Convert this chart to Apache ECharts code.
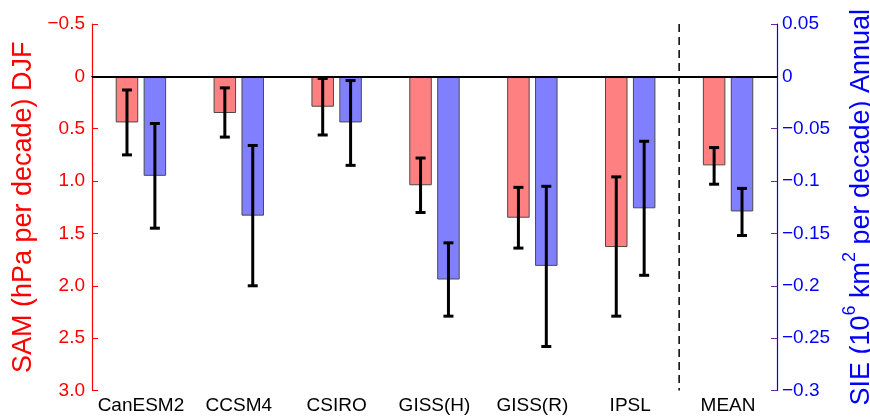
<!DOCTYPE html>
<html>
<head>
<meta charset="utf-8">
<script src="https://cdn.jsdelivr.net/npm/echarts@6/dist/echarts.min.js"></script>
<style>
  html, body { margin: 0; padding: 0; background: #fff; }
  #chart { width: 870px; height: 419px; }
</style>
</head>
<body>
<div id="chart"></div>
<script>
// Model names along the x axis
const categories = ['CanESM2', 'CCSM4', 'CSIRO', 'GISS(H)', 'GISS(R)', 'IPSL', 'MEAN'];

// SAM trend, DJF (hPa per decade), with error-bar ends
const samTrend = [0.44, 0.35, 0.29, 1.04, 1.35, 1.63, 0.85];
const samLow   = [0.13, 0.11, 0.02, 0.78, 1.06, 0.96, 0.68];
const samHigh  = [0.75, 0.58, 0.56, 1.30, 1.64, 2.29, 1.03];

// Annual SIE trend (10^6 km^2 per decade), with error-bar ends
const sieTrend = [-0.095, -0.133, -0.044, -0.194, -0.181, -0.126, -0.129];
const sieLow   = [-0.045, -0.066, -0.004, -0.159, -0.105, -0.062, -0.107];
const sieHigh  = [-0.145, -0.200, -0.085, -0.229, -0.258, -0.190, -0.152];

// Tick values for both value axes
const samTicks = { min: -0.5, max: 3.0, step: 0.5 };
const sieTicks = { min: -0.3, max: 0.05, step: 0.05 };

const FONT = '"Liberation Sans", Arial, Helvetica, sans-serif';
const RED = '#ff0000';
const BLUE = '#0000ff';
const BAR_W = 22.5;
const BAR_GAP = 0.24;
const BAR_SHIFT = (BAR_W + BAR_W * BAR_GAP) / 2;

const minus = s => s.replace('-', '\u2212');

function errorBars(lows, highs, shift) {
  return {
    type: 'custom',
    z: 5,
    renderItem: function (params, api) {
      const i = api.value(0);
      const a = api.coord([i, api.value(1)]);
      const b = api.coord([i, api.value(2)]);
      const x = a[0] + shift;
      const cap = 5;
      const style = { stroke: '#000', lineWidth: 3, fill: null };
      return {
        type: 'group',
        children: [
          { type: 'line', shape: { x1: x, y1: a[1], x2: x, y2: b[1] }, style: style },
          { type: 'line', shape: { x1: x - cap, y1: a[1], x2: x + cap, y2: a[1] }, style: style },
          { type: 'line', shape: { x1: x - cap, y1: b[1], x2: x + cap, y2: b[1] }, style: style }
        ]
      };
    },
    data: categories.map((c, i) => [i, lows[i], highs[i]])
  };
}

const chart = echarts.init(document.getElementById('chart'), null, { renderer: 'canvas' });

chart.setOption({
  animation: false,
  backgroundColor: '#fff',
  grid: { left: 92, right: 93, top: 24, bottom: 28.5, containLabel: false, outerBoundsMode: 'none' },
  xAxis: [
    {
      type: 'category',
      data: categories,
      position: 'bottom',
      axisLine: { lineStyle: { color: '#000', width: 1.2 } },
      axisTick: { inside: true, alignWithLabel: true, length: 5, lineStyle: { color: '#555' } },
      axisLabel: { color: '#000', fontSize: 19, fontFamily: FONT, margin: 6, interval: 0 },
      splitLine: { show: false }
    },
    {
      type: 'category',
      data: categories,
      position: 'top',
      axisLine: { lineStyle: { color: '#000', width: 1.2 } },
      axisTick: { inside: true, alignWithLabel: true, length: 5, lineStyle: { color: '#555' } },
      axisLabel: { show: false },
      splitLine: { show: false }
    }
  ],
  yAxis: [
    {
      type: 'value',
      position: 'left',
      inverse: true,
      min: samTicks.min,
      max: samTicks.max,
      interval: samTicks.step,
      name: 'SAM (hPa per decade) DJF',
      nameLocation: 'middle',
      nameRotate: 90,
      nameGap: 49,
      nameTextStyle: { color: RED, fontSize: 27, fontFamily: FONT },
      axisLine: { show: true, lineStyle: { color: RED, width: 1.2 } },
      axisTick: { show: true, inside: true, length: 6, lineStyle: { color: RED } },
      axisLabel: {
        color: RED, fontSize: 19, fontFamily: FONT, margin: 7,
        formatter: v => v === 0 ? '0' : minus(v.toFixed(1))
      },
      splitLine: { show: false }
    },
    {
      type: 'value',
      position: 'right',
      min: sieTicks.min,
      max: sieTicks.max,
      interval: sieTicks.step,
      name: '{t|SIE (10}{s|6}{t| km}{s|2}{t| per decade) Annual}',
      nameLocation: 'middle',
      nameRotate: 90,
      nameGap: 62,
      nameTextStyle: {
        color: BLUE, fontSize: 27, fontFamily: FONT,
        rich: {
          t: { color: BLUE, fontSize: 27, fontFamily: FONT, lineHeight: 34, verticalAlign: 'bottom' },
          s: { color: BLUE, fontSize: 18, fontFamily: FONT, lineHeight: 34, verticalAlign: 'top' }
        }
      },
      axisLine: { show: true, lineStyle: { color: BLUE, width: 1.2 } },
      axisTick: { show: true, inside: true, length: 6, lineStyle: { color: '#6a2aa0' } },
      axisLabel: {
        color: BLUE, fontSize: 19, fontFamily: FONT, margin: 5,
        formatter: v => minus(String(parseFloat(v.toFixed(2))))
      },
      splitLine: { show: false }
    }
  ],
  series: [
    {
      name: 'SAM',
      type: 'bar',
      yAxisIndex: 0,
      barWidth: BAR_W,
      barGap: (BAR_GAP * 100) + '%',
      data: samTrend,
      itemStyle: { color: '#ff8080', borderColor: '#4a4a4a', borderWidth: 1 },
      markLine: {
        silent: true,
        symbol: 'none',
        label: { show: false },
        lineStyle: { color: '#000', type: 'solid', width: 1.8 },
        data: [{ yAxis: 0 }]
      }
    },
    {
      name: 'SIE',
      type: 'bar',
      yAxisIndex: 1,
      barWidth: BAR_W,
      barGap: (BAR_GAP * 100) + '%',
      data: sieTrend,
      itemStyle: { color: '#8080ff', borderColor: '#4a4a4a', borderWidth: 1 }
    },
    Object.assign(errorBars(samLow, samHigh, -BAR_SHIFT), { yAxisIndex: 0 }),
    Object.assign(errorBars(sieLow, sieHigh, BAR_SHIFT), { yAxisIndex: 1 }),
    {
      // dashed separator between the individual models and the multi-model mean
      type: 'custom',
      yAxisIndex: 0,
      z: 4,
      renderItem: function (params, api) {
        const c = api.coord([api.value(0), 0]);
        const half = api.size([1, 0])[0] / 2;
        const cs = params.coordSys;
        const x = c[0] + half;
        return {
          type: 'line',
          shape: { x1: x, y1: cs.y, x2: x, y2: cs.y + cs.height },
          style: { stroke: '#000', lineWidth: 1.5, lineDash: [8, 5] }
        };
      },
      data: [[categories.length - 2]]
    }
  ]
});
</script>
</body>
</html>
